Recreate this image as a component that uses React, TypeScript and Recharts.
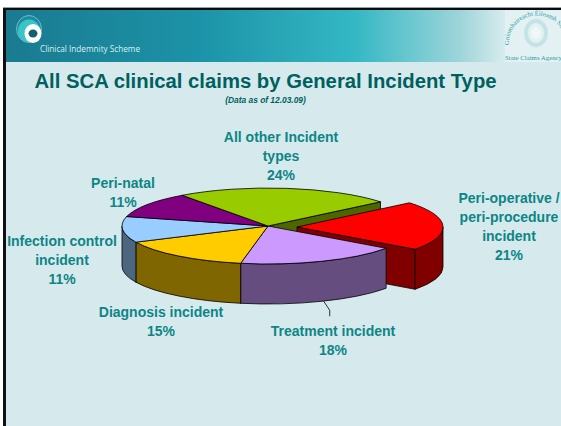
import React from 'react';
import { PieChart, Pie } from 'recharts';

const categories = ['Peri-operative', 'Treatment', 'Diagnosis', 'Infection control', 'Peri-natal', 'All other'];
const shares = [21, 18, 15, 11, 11, 24];
const topColors = ['#FF0000', '#CC99FF', '#FFCC00', '#99CCFF', '#800080', '#99CC00'];
const sideColors = ['#800000', '#664D80', '#806600', '#4D6680', '#400040', '#4D6600'];
const labelLines = [
  ['Peri-operative /', 'peri-procedure', 'incident'],
  ['Treatment incident'],
  ['Diagnosis incident'],
  ['Infection control', 'incident'],
  ['Peri-natal'],
  ['All other Incident', 'types'],
];

// label layout, same order as categories: centre x, first line centre y
const labelAnchors = [
  [509, 198],
  [333, 331],
  [161, 312],
  [62, 241],
  [123, 183],
  [281, 137],
];

const pieData = categories.map((name, i) => ({
  name,
  value: shares[i],
  fill: topColors[i],
  side: sideColors[i],
}));

const W = 561;
const H = 426;
const TILT = 0.26;
const DEPTH = 40;
const EXPLODED = 'Peri-operative';
const SHIFT_X = 29;
const SHIFT_Y = 1;
const LINE = 19;

const point = (cx: number, cy: number, r: number, deg: number) => ({
  x: cx + r * Math.cos((deg * Math.PI) / 180),
  y: cy - r * TILT * Math.sin((deg * Math.PI) / 180),
});

const origin = (p: any) =>
  p.name === EXPLODED ? [p.cx + SHIFT_X, p.cy + SHIFT_Y] : [p.cx, p.cy];

const EndFace = (p: any, deg: number) => {
  const [cx, cy] = origin(p);
  const e = point(cx, cy, p.outerRadius, deg);
  return (
    <path
      d={`M${cx},${cy} L${e.x},${e.y} L${e.x},${e.y + DEPTH} L${cx},${cy + DEPTH} Z`}
      fill={p.side ?? p.payload?.side}
      stroke="#000"
      strokeWidth={0.8}
    />
  );
};

const OuterWall = (p: any) => {
  const [cx, cy] = origin(p);
  const r = p.outerRadius;
  // only the front half of the rim can be seen
  const from = Math.min(p.startAngle, 0);
  const to = Math.max(p.endAngle, -180);
  if (from <= to) return null;
  const a = point(cx, cy, r, from);
  const b = point(cx, cy, r, to);
  return (
    <path
      d={`M${a.x},${a.y} A${r},${r * TILT} 0 0 1 ${b.x},${b.y} L${b.x},${b.y + DEPTH} A${r},${r * TILT} 0 0 0 ${a.x},${a.y + DEPTH} Z`}
      fill={p.side ?? p.payload?.side}
      stroke="#000"
      strokeWidth={0.8}
    />
  );
};

const TopFace = (p: any) => {
  const [cx, cy] = origin(p);
  const r = p.outerRadius;
  const a = point(cx, cy, r, p.startAngle);
  const b = point(cx, cy, r, p.endAngle);
  const large = p.startAngle - p.endAngle > 180 ? 1 : 0;
  return (
    <path
      d={`M${cx},${cy} L${a.x},${a.y} A${r},${r * TILT} 0 ${large} 1 ${b.x},${b.y} Z`}
      fill={p.fill}
      stroke="#000"
      strokeWidth={0.8}
    />
  );
};

// leader from the rim of the treatment slice down to its label
const Leader = (p: any) => {
  const a = point(p.cx, p.cy, p.outerRadius, p.midAngle);
  const y = a.y + DEPTH;
  return <path d={`M${a.x + 2},${y} L${a.x + 8},${y + 9} L${a.x + 8},${y + 15}`} fill="none" stroke="#000" strokeWidth={0.8} />;
};

const backShape = (p: any) => (p.name === EXPLODED ? <g /> : EndFace(p, p.endAngle));

const explodedShape = (p: any) =>
  p.name === EXPLODED ? (
    <g>
      {EndFace(p, p.endAngle)}
      {OuterWall(p)}
      {TopFace(p)}
    </g>
  ) : (
    <g />
  );

const frontShape = (p: any) =>
  p.name === EXPLODED ? (
    <g />
  ) : (
    <g>
      {OuterWall(p)}
      {TopFace(p)}
      {p.name === 'Treatment' ? Leader(p) : null}
    </g>
  );

const renderLabel = (p: any) => {
  const [x, y] = labelAnchors[p.index];
  const lines = [...labelLines[p.index], `${Math.round(p.percent * 100)}%`];
  return (
    <text
      key={p.index}
      x={x}
      y={y}
      textAnchor="middle"
      dominantBaseline="central"
      fontFamily='"Liberation Sans", Arial, sans-serif'
      fontWeight="bold"
      fontSize={14}
      fill="#0E8585"
    >
      {lines.map((l, i) => (
        <tspan key={l} x={x} y={y + i * LINE}>
          {l}
        </tspan>
      ))}
    </text>
  );
};

const pieProps = {
  data: pieData,
  dataKey: 'value',
  nameKey: 'name',
  cx: 268,
  cy: 226,
  outerRadius: 146,
  startAngle: 39.6,
  endAngle: -320.4,
  isAnimationActive: false,
  labelLine: false,
};

const ClinicalLogo = () => (
  <svg width={30} height={32} style={{ position: 'absolute', left: 15, top: 14 }}>
    <ellipse cx={14} cy={15} rx={12.5} ry={13.5} fill="#1E8CA0" stroke="#A8DDE2" strokeWidth={0.6} />
    <ellipse cx={14} cy={17} rx={11} ry={11.5} fill="#3BC4C8" />
    <ellipse cx={18} cy={19.5} rx={8.5} ry={9.5} fill="#fff" />
    <ellipse cx={18} cy={19.5} rx={4.5} ry={4} fill="#14606F" />
  </svg>
);

const AgencyCrest = () => (
  <svg width={56} height={52} style={{ position: 'absolute', left: 505, top: 10 }}>
    <rect width={56} height={52} fill="#E3F1F2" />
    <defs>
      <path id="crest-arc" d="M4,35 A27,26 0 1 1 60,30" />
    </defs>
    <text fontFamily='"Liberation Serif", serif' fontSize={6.5} fill="#2A9DA8">
      <textPath href="#crest-arc">Gníomhaireacht Éileamh Stáit</textPath>
    </text>
    <ellipse cx={31} cy={23} rx={10} ry={12} fill="none" stroke="#C4E3E6" strokeWidth={4} />
    <ellipse cx={31} cy={23} rx={5} ry={6} fill="#EFF8F8" />
    <text x={0} y={50} fontFamily='"Liberation Serif", serif' fontSize={6.8} fill="#2A9DA8">
      State Claims Agency
    </text>
  </svg>
);

export default function App() {
  return (
    <div style={{ position: 'absolute', left: 0, top: 0, width: W, height: H, background: '#fff', overflow: 'hidden' }}>
      <div style={{ position: 'absolute', left: 3, top: 7, right: 0, height: 1, background: '#8FA5A8' }} />
      <div style={{ position: 'absolute', left: 3, top: 8, right: 0, height: 2.5, background: '#0A0A0A' }} />
      <div style={{ position: 'absolute', left: 3, top: 8, bottom: 0, width: 3, background: '#111' }} />
      <div
        style={{
          position: 'absolute',
          left: 6,
          top: 10,
          right: 0,
          height: 52,
          background: 'linear-gradient(90deg, #1A7A90 0%, #1C93A8 35%, #34B8C4 63%, #9FD5DA 82%, #D8ECEE 90%, #E3F1F2 100%)',
        }}
      />
      <div style={{ position: 'absolute', left: 6, top: 62, right: 0, bottom: 0, background: '#D6EAED' }} />
      <ClinicalLogo />
      <AgencyCrest />
      <div style={{ position: 'absolute', left: 40, top: 43, fontFamily: '"Open Sans", sans-serif', fontSize: 8.2, color: '#D8F0F2', whiteSpace: 'nowrap' }}>
        Clinical Indemnity Scheme
      </div>
      <div style={{ position: 'absolute', left: 0, width: 531, top: 70, textAlign: 'center', fontFamily: '"Liberation Sans", Arial, sans-serif', fontWeight: 'bold', fontSize: 20.3, color: '#005F5F', whiteSpace: 'nowrap' }}>
        All SCA clinical claims by General Incident Type
      </div>
      <div style={{ position: 'absolute', left: 0, width: 531, top: 95, textAlign: 'center', fontFamily: '"Liberation Sans", Arial, sans-serif', fontWeight: 'bold', fontStyle: 'italic', fontSize: 8.4, color: '#005F5F' }}>
        (Data as of 12.03.09)
      </div>
      <div style={{ position: 'absolute', left: 0, top: 0 }}>
        <PieChart width={W} height={H} margin={{ top: 0, right: 0, bottom: 0, left: 0 }}>
          <Pie {...pieProps} shape={backShape} />
          <Pie {...pieProps} shape={explodedShape} />
          <Pie {...pieProps} shape={frontShape} label={renderLabel} />
        </PieChart>
      </div>
    </div>
  );
}
